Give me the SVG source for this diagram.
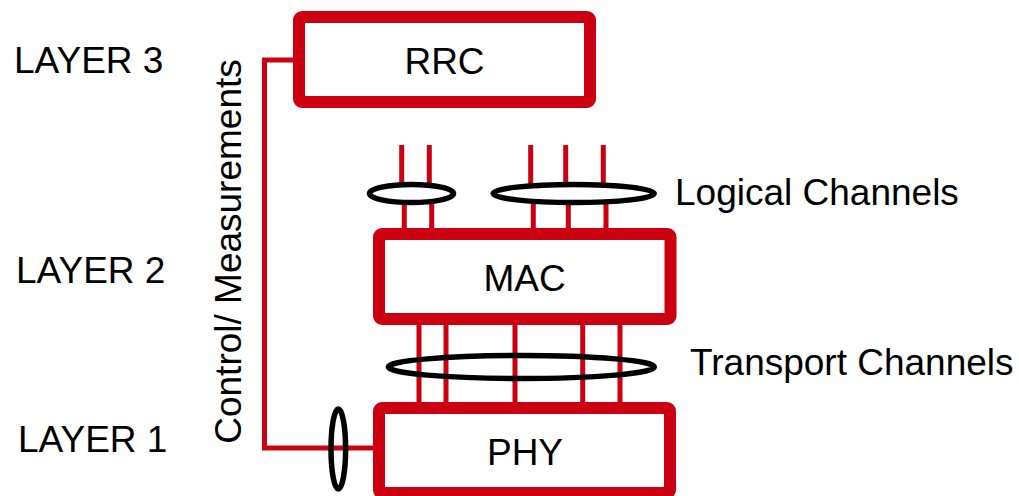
<svg xmlns="http://www.w3.org/2000/svg" width="1019" height="496" viewBox="0 0 1019 496">
<style>
.box{fill:#fff;stroke:#CC0011;stroke-width:12;}
.ch{stroke:#CC0011;stroke-width:5;fill:none;}
.ell{stroke:#000;stroke-width:5.5;}
.t{font-family:"Liberation Sans",Arial,sans-serif;font-size:37px;fill:#000;}
.c{text-anchor:middle;}
</style>
<rect width="1019" height="496" fill="#fff"/>
<g id="labels">
<text class="t" x="14" y="73">LAYER 3</text>
<text class="t" x="16" y="283">LAYER 2</text>
<text class="t" x="18" y="452">LAYER 1</text>
<text class="t" x="675" y="205">Logical Channels</text>
<text class="t" x="690" y="375">Transport Channels</text>
<text class="t c" transform="translate(241,251.5) rotate(-90)">Control/ Measurements</text>
</g>
<g id="connectors">
<path class="ch" d="M373 448H264.5V60H299"/>
<path class="ch" d="M401.7 145V192M429.3 145V192M530.7 145V192M565.7 145V192M603.3 145V192"/>
<path class="ch" d="M404.3 194V230M431.7 194V230M533.3 194V230M568.3 194V230M606 194V230"/>
<path class="ch" d="M419 323V404M446 323V404M515 323V404M582.7 323V404M620 323V404"/>
<ellipse class="ell" cx="411.5" cy="193.5" rx="42" ry="9" fill="#fff"/>
<ellipse class="ell" cx="573.7" cy="193.5" rx="80.5" ry="9" fill="#fff"/>
<ellipse class="ell" cx="521.3" cy="367" rx="133" ry="11.5" fill="none"/>
<ellipse class="ell" cx="338.3" cy="449" rx="7.3" ry="40" fill="none"/>
</g>
<g id="rrc">
<rect class="box" x="299" y="17" width="291" height="85" rx="3"/>
<text class="t c" x="444.5" y="74">RRC</text>
</g>
<g id="mac">
<rect class="box" x="379" y="234" width="291.5" height="85" rx="3"/>
<text class="t c" x="524.5" y="291">MAC</text>
</g>
<g id="phy">
<rect class="box" x="379" y="408" width="291" height="85" rx="3"/>
<text class="t c" x="525" y="465">PHY</text>
</g>
</svg>
